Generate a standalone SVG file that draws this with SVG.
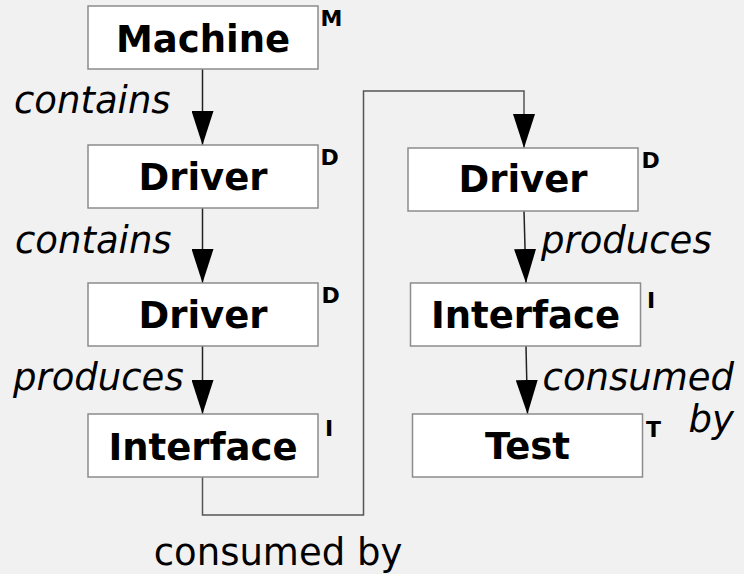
<svg xmlns="http://www.w3.org/2000/svg" width="744" height="574" viewBox="0 0 744 574">
  <defs>
    <style>
      .box { fill: #ffffff; stroke: #8c8c8c; stroke-width: 1.5; }
      .name { font-family: "DejaVu Sans", sans-serif; font-weight: bold; font-size: 37px; fill: #000; text-anchor: middle; }
      .tag { font-family: "DejaVu Sans", sans-serif; font-weight: bold; font-size: 22px; fill: #000; }
      .rel { font-family: "DejaVu Sans", sans-serif; font-style: italic; font-size: 37px; fill: #000; }
      .plain { font-family: "DejaVu Sans", sans-serif; font-size: 37px; fill: #000; }
      .link { fill: none; stroke: #222; stroke-width: 1.5; }
      .elbow { fill: none; stroke: #555; stroke-width: 1.5; }
    </style>
    <marker id="head" viewBox="0 0 34 22" refX="34" refY="11" markerWidth="34" markerHeight="22" markerUnits="userSpaceOnUse" orient="auto">
      <path d="M0,0 L34,11 L0,22 Z" fill="#000"/>
    </marker>
  </defs>

  <rect width="744" height="574" fill="#f1f1f1"/>

  <!-- connectors -->
  <g id="connectors">
    <line class="link" x1="202.5" y1="69" x2="202.5" y2="145" marker-end="url(#head)"/>
    <line class="link" x1="202.5" y1="208" x2="202.5" y2="283" marker-end="url(#head)"/>
    <line class="link" x1="202.5" y1="346" x2="202.5" y2="414" marker-end="url(#head)"/>
    <polyline class="elbow" points="202.5,477 202.5,515 363.5,515 363.5,91 524,91 524,148" marker-end="url(#head)"/>
    <line class="link" x1="524" y1="211" x2="526" y2="283" marker-end="url(#head)"/>
    <line class="link" x1="526" y1="346" x2="527.5" y2="414" marker-end="url(#head)"/>

    <text class="rel" x="14" y="113">contains</text>
    <text class="rel" x="15" y="253">contains</text>
    <text class="rel" x="13" y="390">produces</text>
    <text class="rel" x="541" y="253">produces</text>
    <text class="rel" x="734" y="390" text-anchor="end">consumed</text>
    <text class="rel" x="734" y="432" text-anchor="end">by</text>
    <text class="plain" x="278" y="565" text-anchor="middle">consumed by</text>
  </g>

  <!-- left column -->
  <g id="machine">
    <rect class="box" x="88" y="6" width="230" height="63"/>
    <text class="name" x="203" y="51.5">Machine</text>
    <text class="tag" x="320.5" y="26">M</text>
  </g>
  <g id="driver-a">
    <rect class="box" x="88" y="145" width="230" height="63"/>
    <text class="name" x="203" y="190">Driver</text>
    <text class="tag" x="320.5" y="165">D</text>
  </g>
  <g id="driver-b">
    <rect class="box" x="88" y="283" width="230" height="63"/>
    <text class="name" x="203" y="328">Driver</text>
    <text class="tag" x="321.5" y="303">D</text>
  </g>
  <g id="interface-a">
    <rect class="box" x="88" y="414" width="230" height="63"/>
    <text class="name" x="203" y="460">Interface</text>
    <text class="tag" x="325" y="436">I</text>
  </g>

  <!-- right column -->
  <g id="driver-c">
    <rect class="box" x="408" y="148" width="230" height="63"/>
    <text class="name" x="523" y="192">Driver</text>
    <text class="tag" x="641.5" y="168">D</text>
  </g>
  <g id="interface-b">
    <rect class="box" x="410.5" y="283" width="230" height="63"/>
    <text class="name" x="525.5" y="328">Interface</text>
    <text class="tag" x="647" y="308">I</text>
  </g>
  <g id="test">
    <rect class="box" x="412.5" y="414" width="230" height="63"/>
    <text class="name" x="527.5" y="459">Test</text>
    <text class="tag" x="646" y="436.5">T</text>
  </g>
</svg>
